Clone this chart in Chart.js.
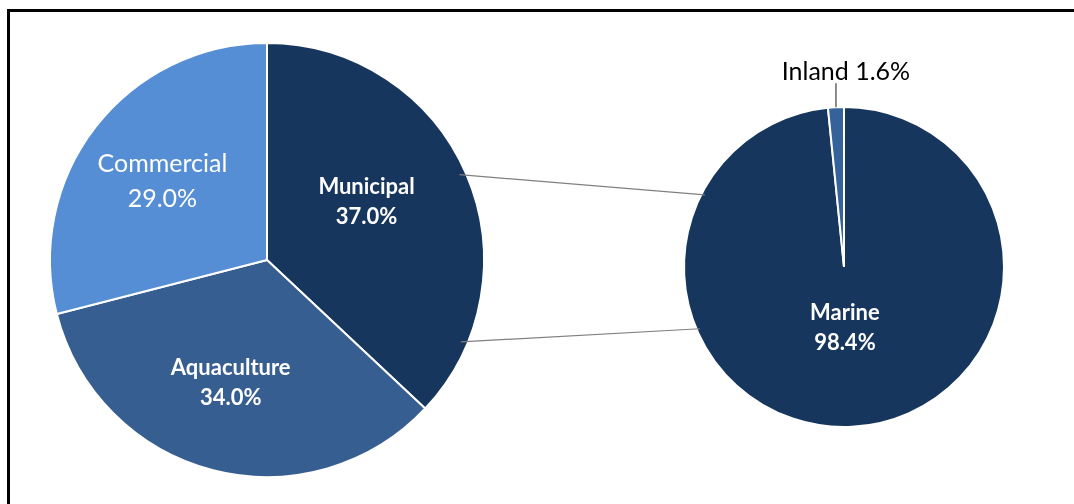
<!DOCTYPE html>
<html>
<head>
<meta charset="utf-8">
<script src="https://cdn.jsdelivr.net/npm/chart.js@4/dist/chart.umd.min.js"></script>
<style>
  html, body { margin: 0; padding: 0; background: #fff; }
  #wrap { position: relative; width: 1074px; height: 504px; overflow: hidden; }
  #frame { position: absolute; left: 7px; top: 9px; width: 1080px; height: 520px; border: 3px solid #000; box-sizing: border-box; }
  canvas { position: absolute; top: 0; }
  #leftPie { left: 0; }
  #rightPie { left: 560px; }
  #links { position: absolute; left: 0; top: 0; pointer-events: none; }
</style>
</head>
<body>
<div id="wrap">
  <div id="frame"></div>
  <canvas id="leftPie" width="560" height="504"></canvas>
  <canvas id="rightPie" width="514" height="504"></canvas>
  <svg id="links" width="1074" height="504"></svg>
</div>
<script>
// data
const sourceLabels = ['Municipal', 'Aquaculture', 'Commercial'];
const sourceShares = [37.0, 34.0, 29.0];
const sourceColors = ['#17365d', '#375e90', '#558ed5'];

const splitLabels = ['Marine', 'Inland'];
const splitShares = [98.4, 1.6];
const splitColors = ['#17365d', '#36629a'];

const FONT = 'Lato, "Open Sans", sans-serif';

// slice labels drawn inside the slices
const sliceLabels = {
  id: 'sliceLabels',
  afterDatasetsDraw(chart, args, opts) {
    const ctx = chart.ctx;
    const meta = chart.getDatasetMeta(0);
    const ds = chart.data.datasets[0];
    meta.data.forEach((arc, i) => {
      const p = arc.getProps(['x', 'y', 'startAngle', 'endAngle', 'outerRadius']);
      const mid = (p.startAngle + p.endAngle) / 2;
      const txt1 = chart.data.labels[i];
      const txt2 = ds.data[i].toFixed(1) + '%';
      ctx.save();
      if (opts.outside && opts.outside.includes(i)) {
        // leader line + label above the slice
        const lx = p.x + Math.cos(mid) * p.outerRadius;
        const ly = p.y + Math.sin(mid) * p.outerRadius;
        ctx.strokeStyle = '#404040';
        ctx.lineWidth = 1.2;
        ctx.beginPath();
        ctx.moveTo(lx, ly);
        ctx.lineTo(lx, ly - 24);
        ctx.stroke();
        ctx.fillStyle = '#000';
        ctx.font = '25px ' + FONT;
        ctx.textAlign = 'center';
        ctx.textBaseline = 'bottom';
        ctx.fillText(txt1 + ' ' + txt2, lx + 10, ly - 23);
      } else {
        const f = opts.frac[i];
        const nudge = (opts.nudge && opts.nudge[i]) || [0, 0];
        const cx = p.x + Math.cos(mid) * p.outerRadius * f + nudge[0];
        const cy = p.y + Math.sin(mid) * p.outerRadius * f + nudge[1];
        const bold = !(opts.regular && opts.regular.includes(i));
        ctx.fillStyle = '#fff';
        ctx.font = (bold ? 'bold 22px ' : '25px ') + FONT;
        ctx.textAlign = 'center';
        ctx.textBaseline = 'middle';
        const gap = bold ? 15 : 17.5;
        ctx.fillText(txt1, cx, cy - gap);
        ctx.fillText(txt2, cx, cy + gap);
      }
      ctx.restore();
    });
  }
};

const baseOptions = {
  responsive: false,
  animation: false,
  events: [],
  plugins: { legend: { display: false }, tooltip: { enabled: false } }
};

const leftChart = new Chart(document.getElementById('leftPie'), {
  type: 'pie',
  data: {
    labels: sourceLabels,
    datasets: [{
      data: sourceShares,
      backgroundColor: sourceColors,
      borderColor: '#fff',
      borderWidth: 2
    }]
  },
  options: Object.assign({}, baseOptions, {
    layout: { padding: { left: 49, right: 75, top: 42, bottom: 26 } },
    plugins: Object.assign({}, baseOptions.plugins, {
      sliceLabels: { frac: [0.55, 0.58, 0.61], regular: [2], nudge: [[-10, -11], [-5, 1], [0, 3]] }
    })
  }),
  plugins: [sliceLabels]
});

const rightChart = new Chart(document.getElementById('rightPie'), {
  type: 'pie',
  data: {
    labels: splitLabels,
    datasets: [{
      data: splitShares,
      backgroundColor: splitColors,
      borderColor: '#fff',
      borderWidth: 2
    }]
  },
  options: Object.assign({}, baseOptions, {
    layout: { padding: { left: 123, right: 69, top: 106, bottom: 76 } },
    plugins: Object.assign({}, baseOptions.plugins, {
      sliceLabels: { frac: [0.36], outside: [1], nudge: [[-2, 3]] }
    })
  }),
  plugins: [sliceLabels]
});

// connector lines between the Municipal slice and the second pie
function drawLinks() {
  const a = leftChart.getDatasetMeta(0).data[0];
  const b = rightChart.getDatasetMeta(0).data[0];
  const ox = 560;
  const ang1 = [-23.9, 22.9].map(d => d * Math.PI / 180);
  const ang2 = [207.4, 156.8].map(d => d * Math.PI / 180);
  const svg = document.getElementById('links');
  for (let k = 0; k < 2; k++) {
    const x1 = a.x + Math.cos(ang1[k]) * a.outerRadius * 0.97;
    const y1 = a.y + Math.sin(ang1[k]) * a.outerRadius * 0.97;
    const x2 = ox + b.x + Math.cos(ang2[k]) * b.outerRadius * 0.98;
    const y2 = b.y + Math.sin(ang2[k]) * b.outerRadius * 0.98;
    const line = document.createElementNS('http://www.w3.org/2000/svg', 'line');
    line.setAttribute('x1', x1); line.setAttribute('y1', y1);
    line.setAttribute('x2', x2); line.setAttribute('y2', y2);
    line.setAttribute('stroke', '#808080');
    line.setAttribute('stroke-width', '1.2');
    svg.appendChild(line);
  }
}
drawLinks();
</script>
</body>
</html>
